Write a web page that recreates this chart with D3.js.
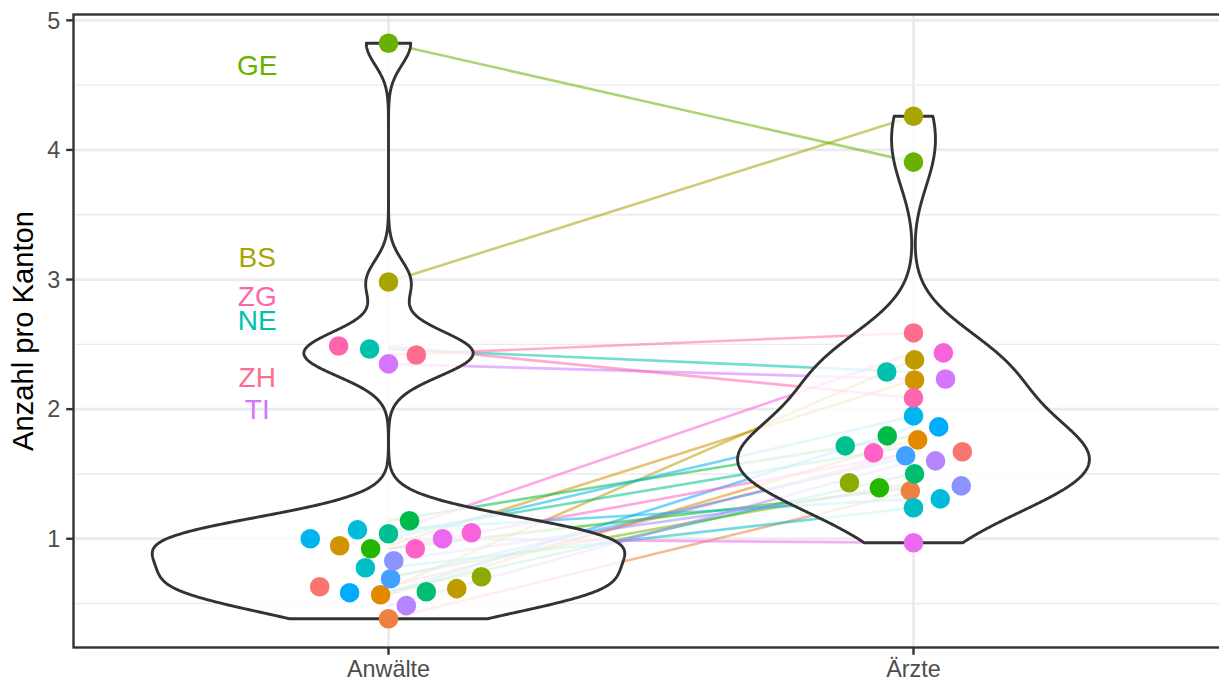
<!DOCTYPE html>
<html>
<head>
<meta charset="utf-8">
<script src="https://cdn.jsdelivr.net/npm/d3@7"></script>
<style>
  body { margin: 0; background: #ffffff; }
  svg { display: block; font-family: "Liberation Sans", Arial, Helvetica, sans-serif; }
</style>
</head>
<body>
<svg id="chart" width="1219" height="680"></svg>
<script>
// Professions compared (x categories)
const groups = ["Anwälte", "Ärzte"];

// Swiss cantons, alphabetical (this order drives the colour palette)
const cantons = ["AG","AI","AR","BE","BL","BS","FR","GE","GL","GR","JU","LU","NE",
                 "NW","OW","SG","SH","SO","SZ","TG","TI","UR","VD","VS","ZG","ZH"];

// Count per canton (per 1000 inhabitants), lawyers
const anwaelte = [0.630, 0.383, 0.568, 0.946, 0.615, 2.981, 0.707, 4.823, 0.923, 1.139, 0.591, 1.039, 2.464,
                  0.776, 1.069, 1.000, 0.584, 0.692, 0.830, 0.484, 2.349, 1.000, 1.046, 0.923, 2.487, 2.418];

// Count per canton, doctors
const aerzte = [1.671, 1.370, 1.763, 2.225, 2.380, 4.260, 1.432, 3.906, 1.393, 1.794, 1.501, 1.717, 2.287,
                1.239, 1.308, 1.948, 1.863, 1.640, 1.408, 1.601, 2.233, 0.969, 2.434, 1.663, 2.087, 2.588];

// Horizontal dodge of each point, in category units
const jitterAnwaelte = [-0.131, 0.000, -0.015, -0.093, 0.130, 0.000, 0.177, 0.000, -0.034, 0.040, 0.072, 0.000, -0.036,
                        -0.044, -0.059, -0.149, -0.074, 0.004, 0.010, 0.034, 0.000, 0.103, 0.158, 0.051, -0.095, 0.053];
const jitterAerzte = [0.093, -0.006, 0.008, 0.002, 0.002, 0.000, -0.122, 0.000, -0.065, -0.050, 0.002, -0.130, -0.051,
                      0.000, 0.051, 0.000, 0.048, -0.015, 0.091, 0.042, 0.061, 0.000, 0.057, -0.076, 0.000, 0.000];

// Highlighted cantons and the height of their text labels
const labelCantons = ["GE", "BS", "ZG", "NE", "ZH", "TI"];
const labelValues = [4.657, 3.176, 2.873, 2.690, 2.248, 1.999];

const yTicks = [1, 2, 3, 4, 5];
const yMinorTicks = [0.5, 1.5, 2.5, 3.5, 4.5];

// ---------- colour palette (HCL hues, l = 65, c = 100) ----------
function hclColor(h, c, l) {
  const WX = 95.047, WY = 100.0, WZ = 108.883, Wu = 0.1978398, Wv = 0.4683363;
  const gt = u => (u > 0.00304 ? 1.055 * Math.pow(u, 1 / 2.4) - 0.055 : 12.92 * u);
  const hr = h * Math.PI / 180;
  const U = c * Math.cos(hr), V = c * Math.sin(hr);
  const Y = WY * (l > 7.999592 ? Math.pow((l + 16) / 116, 3) : l / 903.3);
  const u = U / (13 * l) + Wu, v = V / (13 * l) + Wv;
  const X = 9.0 * Y * u / (4 * v);
  const Z = -X / 3 - 5 * Y + 3 * Y / v;
  const clamp = t => Math.max(0, Math.min(1, t));
  const r = gt(( 3.240479 * X - 1.537150 * Y - 0.498535 * Z) / WY);
  const g = gt((-0.969256 * X + 1.875992 * Y + 0.041556 * Z) / WY);
  const b = gt(( 0.055648 * X - 0.204043 * Y + 1.057311 * Z) / WY);
  return d3.rgb(clamp(r) * 255, clamp(g) * 255, clamp(b) * 255).formatHex();
}
const nC = cantons.length;
const palette = cantons.map((_, i) => hclColor((15 + i * 360 / nC) % 360, 100, 65));
const color = d3.scaleOrdinal().domain(cantons).range(palette);

// ---------- layout ----------
const svg = d3.select("#chart");
const panel = { left: 73.5, top: 14.5, bottom: 647.5, right: 1228.5 };

const x = d3.scaleLinear().domain([0.4, groups.length + 0.6]).range([panel.left, panel.right]);
const unit = x(2) - x(1);
const xCat = g => x(groups.indexOf(g) + 1);

const allVals = anwaelte.concat(aerzte);
const vMin = d3.min(allVals), vMax = d3.max(allVals), vR = vMax - vMin;
const y = d3.scaleLinear().domain([vMin - 0.05 * vR, vMax + 0.05 * vR]).range([panel.bottom, panel.top]);

svg.append("defs").append("clipPath").attr("id", "panelClip")
  .append("rect").attr("x", panel.left).attr("y", panel.top)
  .attr("width", panel.right - panel.left).attr("height", panel.bottom - panel.top);

const plot = svg.append("g").attr("clip-path", "url(#panelClip)");

// grid
plot.append("g").selectAll("line").data(yMinorTicks).join("line")
  .attr("x1", panel.left).attr("x2", panel.right)
  .attr("y1", d => y(d)).attr("y2", d => y(d))
  .attr("stroke", "#ebebeb").attr("stroke-width", 1.4);
plot.append("g").selectAll("line").data(yTicks).join("line")
  .attr("x1", panel.left).attr("x2", panel.right)
  .attr("y1", d => y(d)).attr("y2", d => y(d))
  .attr("stroke", "#ebebeb").attr("stroke-width", 2.8);
plot.append("g").selectAll("line").data(groups).join("line")
  .attr("x1", d => xCat(d)).attr("x2", d => xCat(d))
  .attr("y1", panel.top).attr("y2", panel.bottom)
  .attr("stroke", "#ebebeb").attr("stroke-width", 2.8);

// connecting lines per canton
const pairs = cantons.map((c, i) => ({ canton: c, a: anwaelte[i], b: aerzte[i] }));
plot.append("g").selectAll("line").data(pairs).join("line")
  .attr("x1", xCat(groups[0])).attr("x2", xCat(groups[1]))
  .attr("y1", d => y(d.a)).attr("y2", d => y(d.b))
  .attr("stroke", d => color(d.canton))
  .attr("stroke-opacity", 0.55)
  .attr("stroke-width", 2.6);

// violins (gaussian KDE, bandwidth nrd0, trimmed to data range, equal area)
function bwNrd0(vals) {
  const s = vals.slice().sort(d3.ascending);
  const sd = d3.deviation(s);
  const iqr = d3.quantile(s, 0.75) - d3.quantile(s, 0.25);
  let lo = Math.min(sd, iqr / 1.34);
  if (!lo) lo = sd || Math.abs(s[0]) || 1;
  return 0.9 * lo * Math.pow(s.length, -0.2);
}
function kde(vals) {
  const bw = bwNrd0(vals), n = vals.length;
  const lo = d3.min(vals), hi = d3.max(vals);
  const pts = d3.range(512).map(i => lo + (hi - lo) * i / 511);
  return pts.map(t => ({
    v: t,
    d: d3.sum(vals, xi => Math.exp(-0.5 * ((t - xi) / bw) ** 2)) / (n * bw * Math.sqrt(2 * Math.PI))
  }));
}
const dens = [kde(anwaelte), kde(aerzte)];
const dMax = d3.max(dens, ds => d3.max(ds, p => p.d));
const halfW = d3.scaleLinear().domain([0, dMax]).range([0, 0.45 * unit]);

dens.forEach((ds, gi) => {
  const cx = xCat(groups[gi]);
  const outline = ds.map(p => [cx - halfW(p.d), y(p.v)])
    .concat(ds.slice().reverse().map(p => [cx + halfW(p.d), y(p.v)]));
  plot.append("path")
    .attr("d", d3.line()(outline) + "Z")
    .attr("fill", "#ffffff").attr("fill-opacity", 0.8)
    .attr("stroke", "#333333").attr("stroke-width", 2.9)
    .attr("stroke-linejoin", "round");
});

// points
const pts = [];
cantons.forEach((c, i) => {
  pts.push({ canton: c, g: 0, v: anwaelte[i], dx: jitterAnwaelte[i] });
  pts.push({ canton: c, g: 1, v: aerzte[i], dx: jitterAerzte[i] });
});
plot.append("g").selectAll("circle").data(pts).join("circle")
  .attr("cx", d => x(d.g + 1 + d.dx))
  .attr("cy", d => y(d.v))
  .attr("r", 9.8)
  .attr("fill", d => color(d.canton));

// canton labels
plot.append("g").selectAll("text").data(labelCantons).join("text")
  .attr("x", x(0.75))
  .attr("y", (d, i) => y(labelValues[i]) + 10)
  .attr("text-anchor", "middle")
  .attr("font-size", 28)
  .attr("fill", d => color(d))
  .text(d => d);

// panel border
svg.append("rect")
  .attr("x", panel.left).attr("y", panel.top)
  .attr("width", panel.right - panel.left).attr("height", panel.bottom - panel.top)
  .attr("fill", "none").attr("stroke", "#333333").attr("stroke-width", 2.4);

// y axis ticks + labels
const yAx = svg.append("g");
yAx.selectAll("line").data(yTicks).join("line")
  .attr("x1", panel.left - 7.3).attr("x2", panel.left)
  .attr("y1", d => y(d)).attr("y2", d => y(d))
  .attr("stroke", "#333333").attr("stroke-width", 2.4);
yAx.selectAll("text").data(yTicks).join("text")
  .attr("x", panel.left - 13.2)
  .attr("y", d => y(d) + 8.3)
  .attr("text-anchor", "end")
  .attr("font-size", 23.4)
  .attr("fill", "#4d4d4d")
  .text(d => d);

// x axis ticks + labels
const xAx = svg.append("g");
xAx.selectAll("line").data(groups).join("line")
  .attr("x1", d => xCat(d)).attr("x2", d => xCat(d))
  .attr("y1", panel.bottom).attr("y2", panel.bottom + 7.3)
  .attr("stroke", "#333333").attr("stroke-width", 2.4);
xAx.selectAll("text").data(groups).join("text")
  .attr("x", d => xCat(d))
  .attr("y", panel.bottom + 29.5)
  .attr("text-anchor", "middle")
  .attr("font-size", 23.4)
  .attr("fill", "#4d4d4d")
  .text(d => d);

// y axis title
svg.append("text")
  .attr("transform", `translate(32.5, ${(panel.top + panel.bottom) / 2}) rotate(-90)`)
  .attr("text-anchor", "middle")
  .attr("font-size", 29.2)
  .attr("fill", "#000000")
  .text("Anzahl pro Kanton");
</script>
</body>
</html>
